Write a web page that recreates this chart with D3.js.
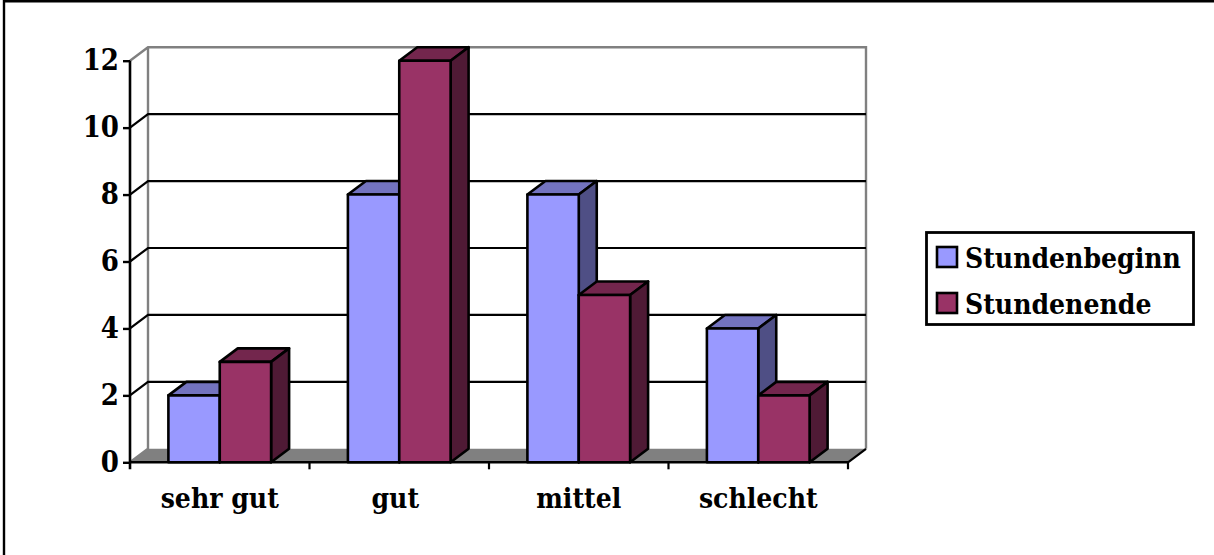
<!DOCTYPE html>
<html><head><meta charset="utf-8">
<script src="https://cdn.jsdelivr.net/npm/d3@7"></script>
<style>html,body{margin:0;padding:0;background:#fff}svg{display:block}
text{font-family:'DejaVu Serif Condensed','DejaVu Serif',serif;font-stretch:condensed;font-weight:bold;fill:#000}</style>
</head><body><svg id="c" width="1214" height="555"></svg>
<script>
const categories = ["sehr gut","gut","mittel","schlecht"];
const seriesNames = ["Stundenbeginn","Stundenende"];
const stundenbeginn = [2,8,8,4];
const stundenende = [3,12,5,2];
const yTicks = [0,2,4,6,8,10,12];

const svg = d3.select("#c");
const dx = 18, dy = -13.5;
const x0 = d3.scaleBand().domain(categories).range([130,848]).paddingInner(0).paddingOuter(0);
const y = d3.scaleLinear().domain([0,12]).range([462.3,60.7]);
const inner = d3.scaleBand().domain(seriesNames).range([38.4,x0.bandwidth()-38.4]);
const colors = {Stundenbeginn:{front:"#9999ff",top:"#7373bf",side:"#4f4f85"},
                Stundenende:{front:"#993366",top:"#73264d",side:"#4f1a35"}};
const K = "#000", W = 2.6;

// page frame: only top and left edges
svg.append("path").attr("d","M4,555V1.2H1214").attr("fill","none").attr("stroke",K).attr("stroke-width",2.4);

const xL = x0.range()[0], xR = x0.range()[1], yB = y(0), yT = y(12);
svg.append("polygon").attr("points",[[xL,yB],[xL+dx,yB+dy],[xR+dx,yB+dy],[xR,yB]].join(" ")).attr("fill","#808080");
svg.append("path").attr("d",`M${xL},${yT}L${xL+dx},${yT+dy}H${xR+dx}V${yB+dy}M${xL+dx},${yT+dy}V${yB+dy}L${xL},${yB}`)
  .attr("fill","none").attr("stroke","#808080").attr("stroke-width",2.4);
yTicks.filter(t=>t>0&&t<12).forEach(t=>{
  svg.append("path").attr("d",`M${xL},${y(t)}L${xL+dx},${y(t)+dy}H${xR+dx}`).attr("fill","none").attr("stroke",K).attr("stroke-width",2.2);
});
const gy = svg.append("g").attr("transform",`translate(${xL},0)`)
  .call(d3.axisLeft(y).tickValues(yTicks).tickSize(7).tickPadding(4).tickFormat(d3.format("d")));
const gx = svg.append("g").attr("transform",`translate(0,${yB})`)
  .call(d3.axisBottom(x0).tickSize(0).tickPadding(26));
gy.selectAll(".tick line").attr("stroke",K).attr("stroke-width",2.4);
gy.select(".domain").remove();
gx.select(".domain").remove();
gy.selectAll("text").attr("font-family",null).attr("font-size",29);
gx.selectAll("text").attr("font-family",null).attr("font-size",28);
gx.selectAll("text").filter(d=>d==="gut").attr("dx",-4);
categories.forEach((c,i)=>{
  [stundenbeginn,stundenende].forEach((vals,s)=>{
    const name = seriesNames[s], col = colors[name];
    const x = x0(c)+inner(name), w = inner.bandwidth(), t = y(vals[i]), g = svg.append("g").attr("stroke",K).attr("stroke-width",W).attr("stroke-linejoin","round");
    g.append("polygon").attr("fill",col.top).attr("points",[[x,t],[x+dx,t+dy],[x+w+dx,t+dy],[x+w,t]].join(" "));
    g.append("polygon").attr("fill",col.side).attr("points",[[x+w,t],[x+w+dx,t+dy],[x+w+dx,yB+dy],[x+w,yB]].join(" "));
    g.append("rect").attr("fill",col.front).attr("x",x).attr("y",t).attr("width",w).attr("height",yB-t);
  });
});
svg.append("path").attr("d",`M${xL},${yT}V${yB+7}M${xL},${yB}H${xR}`).attr("fill","none").attr("stroke",K).attr("stroke-width",2.6);
d3.range(1,5).forEach(i=>{
  const xx = xL + i*x0.step();
  svg.append("path").attr("d",`M${xx},${yB}v7${i===4?`M${xx},${yB}l${dx},${dy}`:""}`).attr("fill","none").attr("stroke",K).attr("stroke-width",2.2);
});
const lg = svg.append("g");
lg.append("rect").attr("x",926.5).attr("y",232.5).attr("width",267).attr("height",92).attr("fill","#fff").attr("stroke",K).attr("stroke-width",2.8);
seriesNames.forEach((n,i)=>{
  lg.append("rect").attr("x",937).attr("y",247+i*46).attr("width",20).attr("height",20).attr("fill",colors[n].front).attr("stroke",K).attr("stroke-width",2.6);
  lg.append("text").attr("x",965).attr("y",268+i*46).attr("font-size",28).text(n);
});
</script></body></html>
